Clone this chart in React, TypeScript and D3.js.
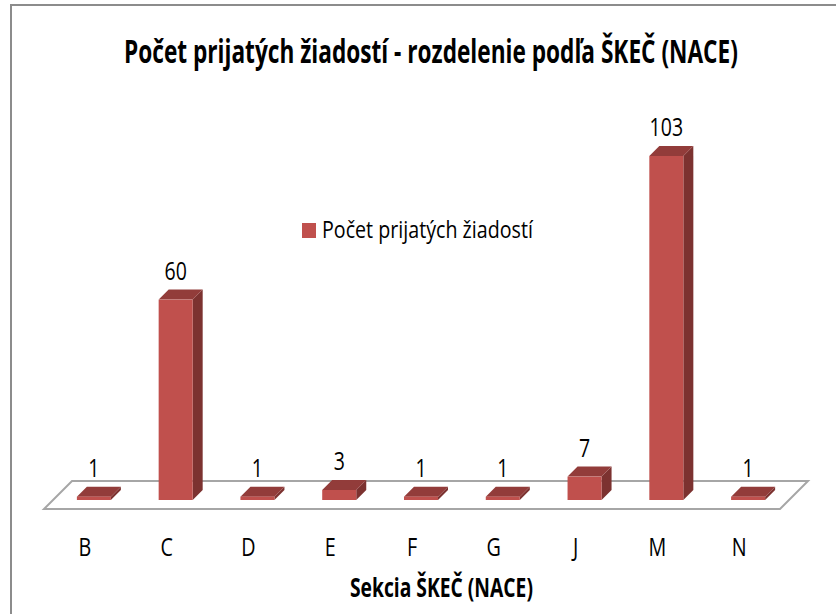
import * as d3 from "d3";
import { useEffect, useRef } from "react";

const categories = ["B", "C", "D", "E", "F", "G", "J", "M", "N"];
const values = [1, 60, 1, 3, 1, 1, 7, 103, 1];
const seriesName = "Počet prijatých žiadostí";
const chartTitle = "Počet prijatých žiadostí - rozdelenie podľa ŠKEČ (NACE)";
const axisTitle = "Sekcia ŠKEČ (NACE)";

const W = 836;
const H = 614;
const depth = 10;
const floorDepth = 28;
const baseY = 500;
const FONT = "'Open Sans', 'Noto Sans', sans-serif";

// squeeze a text horizontally so it spans the given width, starting at x
const fitText = (sel, x, y, width) => {
  const natural = sel.node().getComputedTextLength();
  const sx = width / natural;
  sel.attr("transform", `translate(${x},${y}) scale(${sx},1)`);
};

const App = () => {
  const svgRef = useRef(null);

  useEffect(() => {
    const svg = d3.select(svgRef.current);
    svg.selectAll("*").remove();

    // chart frame
    svg
      .append("path")
      .attr("d", `M11,${H + 5} L11,5 L${W + 5},5`)
      .attr("fill", "none")
      .attr("stroke", "#8c8c8c")
      .attr("stroke-width", 2);

    const xScale = d3
      .scaleBand()
      .domain(categories)
      .range([53, 789])
      .paddingInner(0.584)
      .paddingOuter(0.292);
    const yScale = d3
      .scaleLinear()
      .domain([0, d3.max(values)])
      .range([baseY, 156]);

    // floor
    const fy = 509;
    svg
      .append("path")
      .attr(
        "d",
        `M44,${fy} L780,${fy} L${780 + floorDepth},${fy - floorDepth} L${44 + floorDepth},${fy - floorDepth} Z`
      )
      .attr("fill", "#fff")
      .attr("stroke", "#a6a6a6")
      .attr("stroke-width", 2);

    const bw = xScale.bandwidth();
    const bars = svg
      .append("g")
      .selectAll("g")
      .data(categories.map((c, i) => ({ c, v: values[i] })))
      .join("g");

    // side
    bars
      .append("path")
      .attr("d", (d) => {
        const x1 = xScale(d.c) + bw;
        const t = yScale(d.v);
        return `M${x1},${t} L${x1 + depth},${t - depth} L${x1 + depth},${baseY - depth} L${x1},${baseY} Z`;
      })
      .attr("fill", "#7c3230");
    // top
    bars
      .append("path")
      .attr("d", (d) => {
        const x0 = xScale(d.c);
        const t = yScale(d.v);
        return `M${x0},${t} L${x0 + depth},${t - depth} L${x0 + bw + depth},${t - depth} L${x0 + bw},${t} Z`;
      })
      .attr("fill", "#923c3a");
    // front
    bars
      .append("rect")
      .attr("x", (d) => xScale(d.c))
      .attr("y", (d) => yScale(d.v))
      .attr("width", bw)
      .attr("height", (d) => baseY - yScale(d.v))
      .attr("fill", "#c0504d");

    // data labels
    bars
      .append("text")
      .attr(
        "transform",
        (d) => `translate(${xScale(d.c) + bw / 2},${yScale(d.v) - depth - 10}) scale(0.78,1)`
      )
      .attr("text-anchor", "middle")
      .attr("font-family", FONT)
      .attr("font-size", 25)
      .attr("fill", "#000")
      .text((d) => d.v);

    // category labels
    svg
      .append("g")
      .selectAll("text")
      .data(categories)
      .join("text")
      .attr(
        "transform",
        (d) => `translate(${xScale(d) + bw / 2 - 9},556) scale(0.76,1)`
      )
      .attr("text-anchor", "middle")
      .attr("font-family", FONT)
      .attr("font-size", 26)
      .attr("fill", "#000")
      .text((d) => d);

    // title
    const title = svg
      .append("text")
      .attr("font-family", FONT)
      .attr("font-weight", 700)
      .attr("font-size", 32)
      .text(chartTitle);
    fitText(title, 124, 63, 614);

    // axis title
    const xt = svg
      .append("text")
      .attr("font-family", FONT)
      .attr("font-weight", 700)
      .attr("font-size", 26)
      .text(axisTitle);
    fitText(xt, 350, 597, 183);

    // legend
    svg
      .append("rect")
      .attr("x", 302)
      .attr("y", 223)
      .attr("width", 14)
      .attr("height", 15)
      .attr("fill", "#c0504d");
    const lt = svg
      .append("text")
      .attr("font-family", FONT)
      .attr("font-size", 24)
      .text(seriesName);
    fitText(lt, 322, 238, 211);
  }, []);

  return (
    <svg
      ref={svgRef}
      width={W}
      height={H}
      style={{ position: "absolute", left: 0, top: 0, background: "#fff" }}
    />
  );
};

export default App;
